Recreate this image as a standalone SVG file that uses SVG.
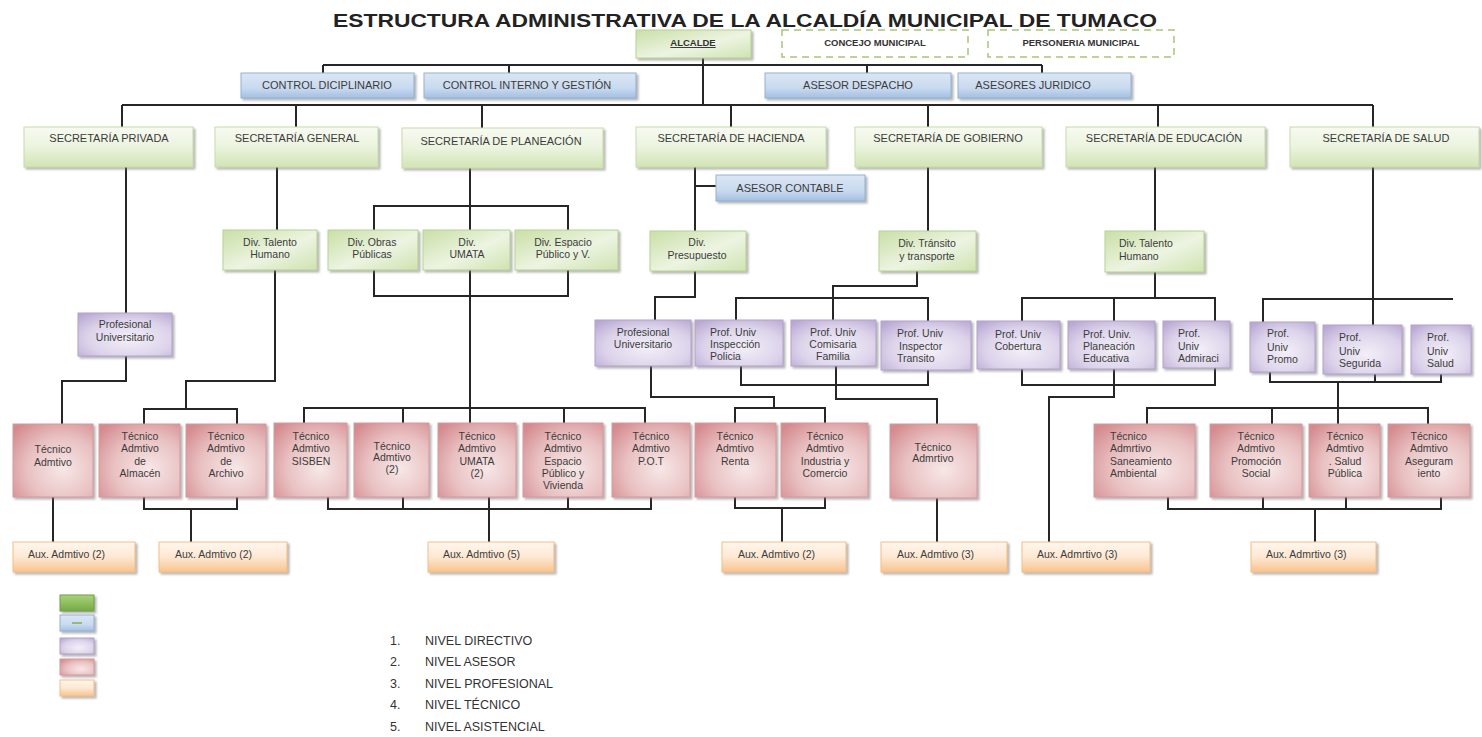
<svg xmlns="http://www.w3.org/2000/svg" width="1482" height="737" viewBox="0 0 1482 737">
<defs>
<filter id="ds" x="-10%" y="-10%" width="130%" height="140%"><feDropShadow dx="2" dy="2" stdDeviation="1" flood-color="#777" flood-opacity="0.55"/></filter>
<linearGradient id="gG" x1="0" y1="0" x2="0" y2="1"><stop offset="0" stop-color="#f7faf1"/><stop offset="0.5" stop-color="#ebf3de"/><stop offset="1" stop-color="#d2e4b4"/></linearGradient>
<linearGradient id="gD" x1="0" y1="0" x2="1" y2="1"><stop offset="0" stop-color="#c9dfa6"/><stop offset="0.55" stop-color="#edf4e2"/><stop offset="1" stop-color="#cfe3b1"/></linearGradient>
<linearGradient id="gB" x1="0" y1="0" x2="0" y2="1"><stop offset="0" stop-color="#dbe6f4"/><stop offset="0.6" stop-color="#c9daef"/><stop offset="1" stop-color="#a3bfe2"/></linearGradient>
<radialGradient id="gP" cx="0.55" cy="0.6" r="0.75"><stop offset="0" stop-color="#f3eff8"/><stop offset="0.6" stop-color="#dcd3ea"/><stop offset="1" stop-color="#b9a8d3"/></radialGradient>
<radialGradient id="gR" cx="0.62" cy="0.62" r="0.8"><stop offset="0" stop-color="#f7e7e7"/><stop offset="0.55" stop-color="#e9c1c2"/><stop offset="1" stop-color="#d48a8e"/></radialGradient>
<linearGradient id="gO" x1="0" y1="0" x2="0" y2="1"><stop offset="0" stop-color="#fff7ef"/><stop offset="0.5" stop-color="#fde8d3"/><stop offset="1" stop-color="#f9c38c"/></linearGradient>
<linearGradient id="gL" x1="0" y1="0" x2="0" y2="1"><stop offset="0" stop-color="#a9d37a"/><stop offset="1" stop-color="#74aa45"/></linearGradient>
<style>
.t{font-family:"Liberation Sans",Arial,sans-serif;fill:#3c3c3c;font-size:10.5px}
.c{text-anchor:middle}
.s{font-size:11px}
.bd{font-weight:bold;font-size:9.5px;fill:#333}
.ti{font-family:"Liberation Sans",Arial,sans-serif;font-weight:bold;font-size:19px;fill:#222}
.lg{font-family:"Liberation Sans",Arial,sans-serif;font-size:12.5px;fill:#333}
.ln{stroke:#262626;stroke-width:2;fill:none}
.g{fill:url(#gG);stroke:#c6dba8;stroke-width:1;filter:url(#ds)}
.d{fill:url(#gD);stroke:#b8d193;stroke-width:1;filter:url(#ds)}
.b{fill:url(#gB);stroke:#93b1d6;stroke-width:1;filter:url(#ds)}
.p{fill:url(#gP);stroke:#b3a2cb;stroke-width:1;filter:url(#ds)}
.r{fill:url(#gR);stroke:#d6999b;stroke-width:1;filter:url(#ds)}
.o{fill:url(#gO);stroke:#f3bd86;stroke-width:1;filter:url(#ds)}
.dash{fill:#fff;stroke:#a9c47a;stroke-width:1.5;stroke-dasharray:7 5}
</style>
</defs>
<rect width="1482" height="737" fill="#fff"/>
<text class="ti" x="745" y="27" text-anchor="middle" textLength="824" lengthAdjust="spacingAndGlyphs">ESTRUCTURA ADMINISTRATIVA DE LA ALCALDÍA MUNICIPAL DE TUMACO</text>

<g id="connectors">
<path class="ln" d="M703,58V105 M323,65H1042 M323,65V73 M509,65V73 M867,65V73 M1042,65V73"/>
<path class="ln" d="M122,105H1373 M122,105V127 M296,105V127 M482,105V128 M731,105V127 M928,105V127 M1158,105V127 M1373,105V127"/>
<path class="ln" d="M126,167V313 M126,356V381H62V424 M53,497V542"/>
<path class="ln" d="M277,167V230 M275,270V381H186V409 M144,424V409H237V424 M144,497V509H237V497 M191,509V542"/>
<path class="ln" d="M470,168V230 M374,230V206H568V230 M374,270V296H568V270 M470,270V423 M304,423V408H645V423 M403,408V423 M564,408V423 M328,497V509H651V497 M403,497V509 M489,497V542 M568,497V509"/>
<path class="ln" d="M695,167V231 M695,186H716 M695,271V297H655V320 M651,366V397H774V408 M735,423V408H825V423 M735,497V508H825V497 M782,508V542"/>
<path class="ln" d="M928,167V231 M917,271V286H833V320 M736,320V298H928V321 M741,366V385H928V370 M836,366V399H937V424 M937,498V542"/>
<path class="ln" d="M1155,167V231 M1155,272V298 M1022,322V298H1215V321 M1114,298V321 M1022,369V385H1215V368 M1114,369V397H1049V542"/>
<path class="ln" d="M1373,167V325 M1263,322V299H1453 M1270,372V382H1441V374 M1375,374V382 M1338,382V424 M1147,424V408H1428V424 M1272,408V424 M1168,497V509H1441V497 M1263,497V509 M1346,497V509 M1315,509V542"/>
</g>

<g id="alcalde"><rect class="d" x="636" y="30" width="115" height="28"/><text class="t bd c" x="693" y="46" text-decoration="underline">ALCALDE</text></g>
<g id="concejo"><rect class="dash" x="782" y="30" width="186" height="27"/><text class="t bd c" x="875" y="46">CONCEJO MUNICIPAL</text></g>
<g id="personeria"><rect class="dash" x="988" y="30" width="186" height="27"/><text class="t bd c" x="1081" y="46">PERSONERIA MUNICIPAL</text></g>

<g id="control-diciplinario"><rect class="b" x="241" y="73" width="173" height="25"/><text class="t s c" x="327" y="89">CONTROL DICIPLINARIO</text></g>
<g id="control-interno"><rect class="b" x="424" y="73" width="212" height="25"/><text class="t s c" x="527" y="89">CONTROL INTERNO Y GESTIÓN</text></g>
<g id="asesor-despacho"><rect class="b" x="765" y="73" width="186" height="25"/><text class="t s c" x="858" y="89">ASESOR DESPACHO</text></g>
<g id="asesores-juridico"><rect class="b" x="958" y="73" width="173" height="25"/><text class="t s c" x="1033" y="89">ASESORES JURIDICO</text></g>

<g id="sec-privada"><rect class="g" x="24" y="127" width="169" height="40"/><text class="t s c" x="109" y="142">SECRETARÍA PRIVADA</text></g>
<g id="sec-general"><rect class="g" x="215" y="127" width="163" height="40"/><text class="t s c" x="297" y="142">SECRETARÍA GENERAL</text></g>
<g id="sec-planeacion"><rect class="g" x="402" y="128" width="201" height="40"/><text class="t s c" x="501" y="145">SECRETARÍA DE PLANEACIÓN</text></g>
<g id="sec-hacienda"><rect class="g" x="636" y="127" width="190" height="40"/><text class="t s c" x="731" y="142">SECRETARÍA DE HACIENDA</text></g>
<g id="sec-gobierno"><rect class="g" x="855" y="127" width="187" height="40"/><text class="t s c" x="948" y="142">SECRETARÍA DE GOBIERNO</text></g>
<g id="sec-educacion"><rect class="g" x="1066" y="127" width="199" height="40"/><text class="t s c" x="1164" y="142">SECRETARÍA DE EDUCACIÓN</text></g>
<g id="sec-salud"><rect class="g" x="1290" y="127" width="189" height="40"/><text class="t s c" x="1386" y="142">SECRETARÍA DE SALUD</text></g>

<g id="asesor-contable"><rect class="b" x="716" y="175" width="149" height="26"/><text class="t s c" x="790" y="192">ASESOR  CONTABLE</text></g>

<g id="div-talento-1"><rect class="d" x="223" y="230" width="94" height="40"/><text class="t c" x="270" y="246">Div.  Talento</text><text class="t c" x="270" y="258">Humano</text></g>
<g id="div-obras"><rect class="d" x="328" y="230" width="90" height="40"/><text class="t c" x="372" y="246">Div. Obras</text><text class="t c" x="372" y="258">Públicas</text></g>
<g id="div-umata"><rect class="d" x="423" y="230" width="87" height="40"/><text class="t c" x="467" y="246">Div.</text><text class="t c" x="467" y="258">UMATA</text></g>
<g id="div-espacio"><rect class="d" x="515" y="230" width="103" height="40"/><text class="t c" x="563" y="246">Div.  Espacio</text><text class="t c" x="563" y="258">Público y V.</text></g>
<g id="div-presupuesto"><rect class="d" x="650" y="231" width="96" height="40"/><text class="t c" x="697" y="246">Div.</text><text class="t c" x="697" y="259">Presupuesto</text></g>
<g id="div-transito"><rect class="d" x="879" y="231" width="97" height="40"/><text class="t c" x="927" y="247">Div. Tránsito</text><text class="t c" x="927" y="260">y transporte</text></g>
<g id="div-talento-2"><rect class="d" x="1105" y="231" width="99" height="41"/><text class="t" x="1119" y="247">Div. Talento</text><text class="t" x="1119" y="260">Humano</text></g>

<g id="prof-privada"><rect class="p" x="78" y="313" width="94" height="43"/><text class="t c" x="125" y="328">Profesional</text><text class="t c" x="125" y="341">Universitario</text></g>
<g id="prof-hacienda"><rect class="p" x="595" y="320" width="96" height="46"/><text class="t c" x="643" y="336">Profesional</text><text class="t c" x="643" y="348">Universitario</text></g>
<g id="prof-inspeccion"><rect class="p" x="695" y="320" width="88" height="46"/><text class="t" x="710" y="336">Prof. Univ</text><text class="t" x="710" y="348">Inspección</text><text class="t" x="710" y="360">Policia</text></g>
<g id="prof-comisaria"><rect class="p" x="791" y="320" width="85" height="46"/><text class="t c" x="833" y="336">Prof. Univ</text><text class="t c" x="833" y="348">Comisaria</text><text class="t c" x="833" y="360">Familia</text></g>
<g id="prof-inspector"><rect class="p" x="881" y="321" width="90" height="49"/><text class="t" x="897" y="337">Prof.  Univ</text><text class="t" x="899" y="350">Inspector</text><text class="t" x="897" y="362">Transito</text></g>
<g id="prof-cobertura"><rect class="p" x="977" y="321" width="83" height="48"/><text class="t c" x="1018" y="338">Prof.  Univ</text><text class="t c" x="1018" y="350">Cobertura</text></g>
<g id="prof-planeacion-edu"><rect class="p" x="1068" y="321" width="87" height="48"/><text class="t" x="1083" y="338">Prof. Univ.</text><text class="t" x="1083" y="350">Planeación</text><text class="t" x="1083" y="362">Educativa</text></g>
<g id="prof-admiraci"><rect class="p" x="1163" y="321" width="67" height="47"/><text class="t" x="1178" y="337">Prof.</text><text class="t" x="1178" y="350">Univ</text><text class="t" x="1178" y="362">Admiraci</text></g>
<g id="prof-promo"><rect class="p" x="1250" y="322" width="65" height="50"/><text class="t" x="1267" y="337">Prof.</text><text class="t" x="1267" y="351">Univ</text><text class="t" x="1267" y="363">Promo</text></g>
<g id="prof-segurida"><rect class="p" x="1323" y="325" width="79" height="49"/><text class="t" x="1339" y="341">Prof.</text><text class="t" x="1339" y="355">Univ</text><text class="t" x="1339" y="367">Segurida</text></g>
<g id="prof-salud"><rect class="p" x="1411" y="325" width="60" height="49"/><text class="t" x="1427" y="341">Prof.</text><text class="t" x="1427" y="355">Univ</text><text class="t" x="1427" y="367">Salud</text></g>

<g id="tec-privada"><rect class="r" x="13" y="424" width="80" height="73"/><text class="t c" x="53" y="453">Técnico</text><text class="t c" x="53" y="466">Admtivo</text></g>
<g id="tec-almacen"><rect class="r" x="99" y="424" width="81" height="73"/><text class="t c" x="140" y="440">Técnico</text><text class="t c" x="140" y="452">Admtivo</text><text class="t c" x="140" y="465">de</text><text class="t c" x="140" y="477">Almacén</text></g>
<g id="tec-archivo"><rect class="r" x="186" y="424" width="80" height="73"/><text class="t c" x="226" y="440">Técnico</text><text class="t c" x="226" y="452">Admtivo</text><text class="t c" x="226" y="465">de</text><text class="t c" x="226" y="477">Archivo</text></g>
<g id="tec-sisben"><rect class="r" x="274" y="423" width="73" height="74"/><text class="t c" x="311" y="440">Técnico</text><text class="t c" x="311" y="452">Admtivo</text><text class="t c" x="311" y="465">SISBEN</text></g>
<g id="tec-admtivo-2"><rect class="r" x="354" y="423" width="75" height="74"/><text class="t c" x="392" y="450">Técnico</text><text class="t c" x="392" y="461">Admtivo</text><text class="t c" x="392" y="473">(2)</text></g>
<g id="tec-umata"><rect class="r" x="438" y="423" width="78" height="74"/><text class="t c" x="477" y="440">Técnico</text><text class="t c" x="477" y="452">Admtivo</text><text class="t c" x="477" y="465">UMATA</text><text class="t c" x="477" y="477">(2)</text></g>
<g id="tec-espacio"><rect class="r" x="523" y="423" width="80" height="74"/><text class="t c" x="563" y="440">Técnico</text><text class="t c" x="563" y="452">Admtivo</text><text class="t c" x="563" y="465">Espacio</text><text class="t c" x="563" y="477">Público y</text><text class="t c" x="563" y="489">Vivienda</text></g>
<g id="tec-pot"><rect class="r" x="612" y="423" width="78" height="74"/><text class="t c" x="651" y="440">Técnico</text><text class="t c" x="651" y="452">Admtivo</text><text class="t c" x="651" y="465">P.O.T</text></g>
<g id="tec-renta"><rect class="r" x="695" y="423" width="81" height="74"/><text class="t c" x="735" y="440">Técnico</text><text class="t c" x="735" y="452">Admtivo</text><text class="t c" x="735" y="465">Renta</text></g>
<g id="tec-industria"><rect class="r" x="781" y="423" width="87" height="74"/><text class="t c" x="825" y="440">Técnico</text><text class="t c" x="825" y="452">Admtivo</text><text class="t c" x="825" y="465">Industria y</text><text class="t c" x="825" y="477">Comercio</text></g>
<g id="tec-gobierno"><rect class="r" x="890" y="424" width="87" height="74"/><text class="t c" x="933" y="451">Técnico</text><text class="t c" x="933" y="462">Admrtivo</text></g>
<g id="tec-saneamiento"><rect class="r" x="1094" y="424" width="101" height="73"/><text class="t" x="1110" y="440">Técnico</text><text class="t" x="1110" y="452">Admrtivo</text><text class="t" x="1110" y="465">Saneamiento</text><text class="t" x="1110" y="477">Ambiental</text></g>
<g id="tec-promocion"><rect class="r" x="1210" y="424" width="92" height="73"/><text class="t c" x="1256" y="440">Técnico</text><text class="t c" x="1256" y="452">Admtivo</text><text class="t c" x="1256" y="465">Promoción</text><text class="t c" x="1256" y="477">Social</text></g>
<g id="tec-salud-publica"><rect class="r" x="1309" y="424" width="71" height="73"/><text class="t c" x="1345" y="440">Técnico</text><text class="t c" x="1345" y="452">Admtivo</text><text class="t c" x="1345" y="465">. Salud</text><text class="t c" x="1345" y="477">Pública</text></g>
<g id="tec-aseguramiento"><rect class="r" x="1388" y="424" width="82" height="73"/><text class="t c" x="1429" y="440">Técnico</text><text class="t c" x="1429" y="452">Admtivo</text><text class="t c" x="1429" y="465">Aseguram</text><text class="t c" x="1429" y="477">iento</text></g>

<g id="aux-1"><rect class="o" x="13" y="542" width="122" height="30"/><text class="t" x="28" y="558">Aux. Admtivo  (2)</text></g>
<g id="aux-2"><rect class="o" x="159" y="542" width="128" height="30"/><text class="t" x="175" y="558">Aux. Admtivo  (2)</text></g>
<g id="aux-3"><rect class="o" x="428" y="542" width="126" height="30"/><text class="t" x="443" y="558">Aux. Admtivo  (5)</text></g>
<g id="aux-4"><rect class="o" x="722" y="542" width="124" height="30"/><text class="t" x="738" y="558">Aux. Admtivo  (2)</text></g>
<g id="aux-5"><rect class="o" x="881" y="542" width="126" height="30"/><text class="t" x="897" y="558">Aux. Admtivo  (3)</text></g>
<g id="aux-6"><rect class="o" x="1022" y="542" width="128" height="30"/><text class="t" x="1037" y="558">Aux. Admrtivo  (3)</text></g>
<g id="aux-7"><rect class="o" x="1251" y="542" width="125" height="30"/><text class="t" x="1266" y="558">Aux. Admrtivo  (3)</text></g>

<g id="legend">
<rect x="60" y="595" width="34" height="16" fill="url(#gL)" stroke="#6e9e43" filter="url(#ds)"/>
<rect class="b" x="60" y="615" width="34" height="16"/>
<line x1="72" y1="623" x2="82" y2="623" stroke="#7fb04f" stroke-width="1.5"/>
<rect class="p" x="60" y="638" width="34" height="16"/>
<rect class="r" x="60" y="659" width="34" height="16"/>
<rect class="o" x="60" y="680" width="34" height="16"/>
<text class="lg" x="390" y="645">1.</text><text class="lg" x="425" y="645">NIVEL DIRECTIVO</text>
<text class="lg" x="390" y="666">2.</text><text class="lg" x="425" y="666">NIVEL ASESOR</text>
<text class="lg" x="390" y="688">3.</text><text class="lg" x="425" y="688">NIVEL PROFESIONAL</text>
<text class="lg" x="390" y="709">4.</text><text class="lg" x="425" y="709">NIVEL TÉCNICO</text>
<text class="lg" x="390" y="731">5.</text><text class="lg" x="425" y="731">NIVEL ASISTENCIAL</text>
</g>
</svg>
